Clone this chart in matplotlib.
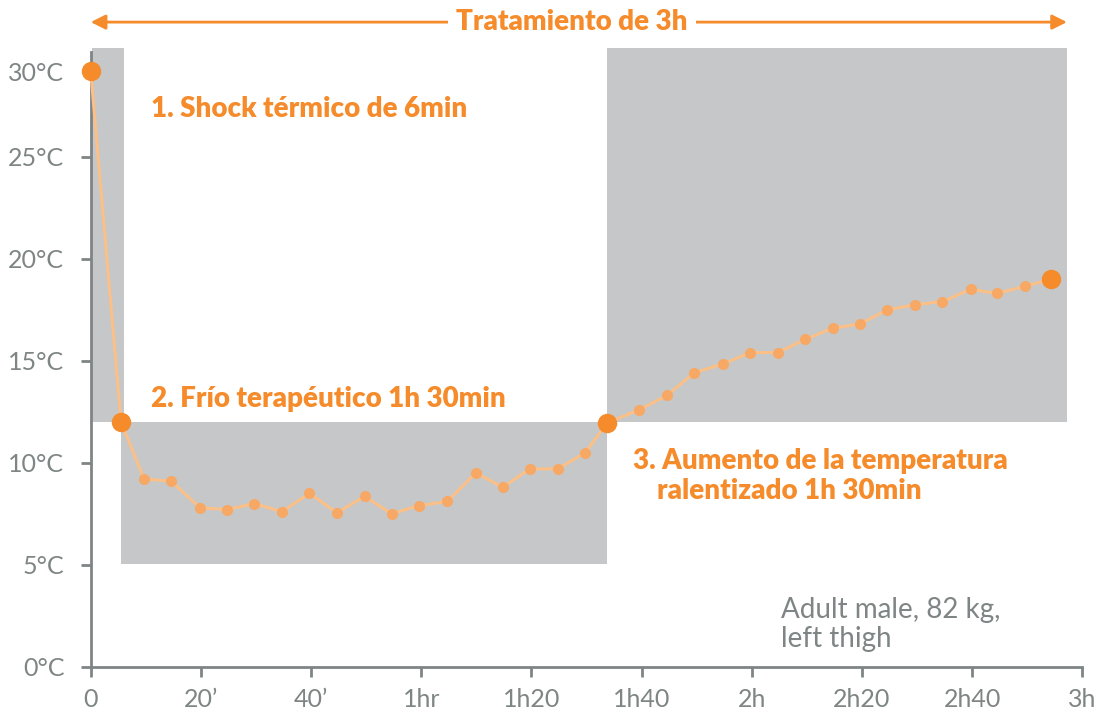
import matplotlib
matplotlib.use('Agg')
import matplotlib.pyplot as plt
import matplotlib.transforms as mtrans
from matplotlib.patches import Rectangle

# donnees (minutes, degres C)
t_min = [0, 5.5, 9.7, 14.6, 19.8, 24.7, 29.7, 34.7, 39.7, 44.7, 49.7, 54.6, 59.6,
         64.7, 69.9, 74.8, 79.7, 84.8, 89.8, 93.7, 99.6, 104.6, 109.5, 114.8,
         119.7, 124.7, 129.7, 134.7, 139.6, 144.6, 149.7, 154.6, 159.7, 164.5,
         169.6, 174.3]
temp = [29.2, 12.0, 9.2, 9.1, 7.8, 7.7, 8.0, 7.6, 8.5, 7.55, 8.35, 7.5, 7.9,
        8.1, 9.5, 8.8, 9.7, 9.7, 10.5, 11.95, 12.6, 13.3, 14.4, 14.85,
        15.4, 15.4, 16.05, 16.6, 16.8, 17.5, 17.75, 17.9, 18.5, 18.3,
        18.65, 19.0]
big_idx = [0, 1, 19, 35]

# phases (debut, fin, bas, haut)
phases = [(0.2, 6.0, 12.0, 30.35), (5.5, 93.7, 5.06, 12.0), (93.7, 177.2, 12.0, 30.35)]

xticks = [0, 20, 40, 60, 80, 100, 120, 140, 160, 180]
xlabels = ['0', '20\u2019', '40\u2019', '1hr', '1h20', '1h40', '2h', '2h20', '2h40', '3h']
yticks = [0, 5, 10, 15, 20, 25, 29.2]
ylabels = ['0\u00b0C', '5\u00b0C', '10\u00b0C', '15\u00b0C', '20\u00b0C', '25\u00b0C', '30\u00b0C']

orange = '#F58B2A'
orange_pt = '#F7A865'
orange_line = '#FBC088'
grey = '#C6C7C8'
axgrey = '#7E8584'

fig = plt.figure(figsize=(11.09, 7.13), dpi=100)
ax = fig.add_axes([0.0818, 0.0649, 0.976 - 0.0818, 0.9275 - 0.0649])
ax.set_xlim(0, 180)
ax.set_ylim(0, 30.15)

for (x0, x1, y0, y1) in phases:
    ax.add_patch(Rectangle((x0, y0), x1 - x0, y1 - y0, facecolor=grey,
                           edgecolor='none', zorder=1, clip_on=False))

ax.plot(t_min, temp, color=orange_line, lw=2.2, zorder=3, clip_on=False)
small = [i for i in range(len(t_min)) if i not in big_idx]
ax.plot([t_min[i] for i in small], [temp[i] for i in small], 'o', ms=8,
        color=orange_pt, mec='none', zorder=4)
ax.plot([t_min[i] for i in big_idx], [temp[i] for i in big_idx], 'o', ms=14,
        color=orange, mec='none', zorder=5, clip_on=False)

for s in ['top', 'right']:
    ax.spines[s].set_visible(False)
for s in ['left', 'bottom']:
    ax.spines[s].set_color(axgrey)
    ax.spines[s].set_linewidth(2)
    ax.spines[s].set_zorder(2)

ax.set_xticks(xticks)
ax.set_xticklabels(xlabels)
ax.set_yticks(yticks)
ax.set_yticklabels(ylabels)
ax.tick_params(axis='both', colors=axgrey, width=2, length=7, labelsize=18,
               labelcolor=axgrey)
ax.tick_params(axis='y', pad=12)
ax.tick_params(axis='x', pad=8)
ax.yaxis.get_major_ticks()[-1].tick1line.set_visible(False)
for lab in ax.get_xticklabels() + ax.get_yticklabels():
    lab.set_family('Lato')

bold = dict(color=orange, fontsize=20, fontweight='heavy', family='Lato',
            va='center', ha='left')
ax.text(11.0, 27.35, '1. Shock t\u00e9rmico de 6min', **bold)
ax.text(11.0, 13.1, '2. Fr\u00edo terap\u00e9utico 1h 30min', **bold)
ax.text(98.5, 10.1, '3. Aumento de la temperatura', **bold)
ax.text(102.8, 8.6, 'ralentizado 1h 30min', **bold)

ax.text(125.3, 2.05, 'Adult male, 82 kg,\nleft thigh', color=axgrey,
        fontsize=20, family='Lato', ha='left', va='center', linespacing=1.15)

# fleche du haut
ax.annotate('', xy=(177.2, 0.969), xytext=(0, 0.969),
            xycoords=('data', 'figure fraction'),
            arrowprops=dict(arrowstyle='<|-|>', color=orange, lw=2,
                            mutation_scale=22, shrinkA=0, shrinkB=0))
ax.text(87.4, 0.969, 'Tratamiento de 3h',
        transform=mtrans.blended_transform_factory(ax.transData, fig.transFigure),
        color=orange, fontsize=20, fontweight='heavy', family='Lato',
        ha='center', va='center',
        bbox=dict(facecolor='white', edgecolor='none', pad=6))

plt.savefig('out.png', dpi=100)
